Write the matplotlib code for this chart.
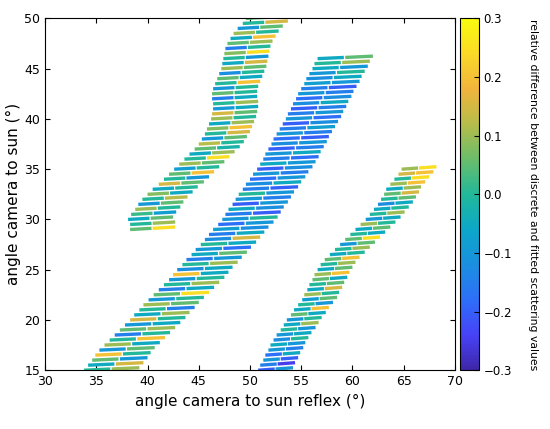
import numpy as np
import matplotlib
matplotlib.use("Agg")
import matplotlib.pyplot as plt
from matplotlib.colors import LinearSegmentedColormap
from matplotlib.collections import LineCollection

# band A (upper left)
a_y = [29 + 0.5 * i for i in range(43)]
a_x = [40.5, 40.5, 40.3, 40.6, 41.0, 41.3, 41.7, 42.2, 42.7, 43.3, 43.8, 44.3, 44.8,
       45.3, 45.8, 46.3, 46.8, 47.2, 47.5, 47.8, 48.0, 48.2, 48.4, 48.5, 48.6, 48.6,
       48.5, 48.5, 48.6, 48.8, 49.0, 49.2, 49.4, 49.5, 49.6, 49.7, 49.8, 50.0, 50.3,
       50.6, 51.0, 51.5, 51.8]
a_v = [(0.05, 0.25), (0.0, 0.1), (-0.05, 0.05), (0.02, -0.08), (0.1, 0.0), (-0.1, 0.05),
       (0.0, 0.12), (0.08, -0.05), (-0.05, 0.0), (0.15, 0.05), (0.0, -0.1), (0.05, 0.2),
       (-0.08, 0.0), (0.1, 0.05), (0.0, 0.25), (-0.05, 0.1), (0.05, -0.02), (0.12, 0.0),
       (-0.1, 0.05), (0.0, 0.15), (0.08, 0.2), (-0.05, 0.1), (0.1, 0.0), (0.15, 0.05),
       (-0.1, -0.05), (0.0, 0.1), (-0.15, -0.05), (0.05, 0.0), (-0.1, 0.0), (0.0, 0.2),
       (0.05, -0.05), (-0.12, 0.0), (0.1, 0.05), (-0.05, 0.15), (0.0, -0.1), (0.08, 0.25),
       (-0.15, 0.0), (0.05, 0.1), (-0.05, 0.2), (0.1, 0.0), (-0.1, 0.05), (0.0, 0.15),
       (0.05, 0.2)]

# band B (middle diagonal)
b_y = [15 + 0.5 * i for i in range(63)]
b_x = [36.5, 36.9, 37.3, 37.6, 38.0, 38.5, 39.0, 39.5, 40.0, 40.5, 41.0, 41.4, 41.9,
       42.3, 42.8, 43.3, 43.8, 44.3, 44.8, 45.2, 45.6, 46.1, 46.5, 47.0, 47.4, 47.9,
       48.3, 48.7, 49.1, 49.6, 50.0, 50.3, 50.6, 51.0, 51.3, 51.6, 52.0, 52.3, 52.7,
       53.0, 53.4, 53.7, 54.0, 54.2, 54.5, 54.8, 55.0, 55.3, 55.6, 55.9, 56.2, 56.4,
       56.7, 56.9, 57.2, 57.4, 57.7, 58.0, 58.2, 58.5, 58.8, 59.0, 59.3]
b_v = [(0.0, 0.1), (-0.05, 0.15), (0.05, -0.1), (0.2, 0.0), (-0.1, 0.05), (0.1, -0.05),
       (0.0, 0.2), (-0.15, 0.0), (0.05, 0.1), (-0.1, -0.05), (0.15, 0.0), (-0.05, 0.1),
       (0.0, -0.15), (0.1, 0.05), (-0.1, 0.0), (0.05, 0.25), (-0.15, -0.05), (0.0, 0.1),
       (-0.1, 0.0), (0.2, -0.05), (-0.12, -0.05), (0.0, 0.1), (-0.15, -0.1), (-0.05, 0.05),
       (-0.1, -0.18), (0.0, -0.05), (-0.12, 0.15), (-0.15, -0.05), (-0.08, -0.12), (-0.18, -0.1),
       (-0.1, 0.0), (-0.15, -0.2), (-0.05, -0.12), (-0.2, -0.1), (-0.1, -0.15), (0.0, -0.1),
       (-0.15, -0.2), (-0.12, -0.05), (-0.18, -0.1), (-0.1, -0.15), (-0.2, -0.12), (-0.05, -0.1),
       (-0.15, -0.18), (-0.1, -0.05), (-0.2, -0.15), (-0.12, -0.1), (-0.18, -0.2), (-0.1, -0.15),
       (-0.15, -0.08), (-0.2, -0.12), (-0.1, -0.18), (-0.15, -0.1), (-0.2, -0.15), (-0.12, -0.05),
       (-0.18, -0.12), (-0.1, -0.15), (-0.15, -0.2), (-0.08, -0.1), (-0.12, -0.05), (-0.1, 0.0),
       (-0.05, -0.1), (0.0, 0.1), (-0.05, 0.05)]

# band C (lower right)
c_y = [15 + 0.5 * i for i in range(41)]
c_x = [52.5, 52.7, 53.0, 53.2, 53.5, 53.7, 54.0, 54.3, 54.7, 55.0, 55.3, 55.7, 56.0,
       56.4, 56.8, 57.0, 57.3, 57.5, 57.8, 58.0, 58.3, 58.6, 59.0, 59.5, 60.0, 60.5,
       61.0, 61.5, 62.0, 62.5, 63.0, 63.4, 63.8, 64.2, 64.5, 64.8, 65.0, 65.4, 65.8,
       66.2, 66.5]
c_v = [(-0.2, -0.1), (-0.15, -0.25), (-0.1, -0.2), (-0.18, -0.05), (-0.1, -0.15), (-0.05, -0.1),
       (-0.12, 0.0), (-0.1, -0.05), (0.0, -0.1), (-0.05, 0.1), (-0.1, 0.0), (0.05, -0.05),
       (-0.05, 0.2), (0.0, -0.1), (-0.08, 0.05), (0.1, 0.0), (-0.05, 0.15), (0.0, 0.05),
       (0.05, -0.05), (0.1, 0.2), (-0.05, 0.05), (0.0, 0.1), (0.05, 0.2), (-0.05, 0.0),
       (0.0, 0.1), (-0.1, 0.05), (0.05, 0.25), (0.0, -0.05), (-0.05, 0.05), (0.1, 0.0),
       (-0.1, -0.05), (0.0, 0.1), (-0.05, 0.0), (-0.12, -0.05), (0.0, 0.05), (0.05, 0.15),
       (-0.05, 0.1), (0.1, 0.2), (0.0, 0.25), (0.15, 0.2), (0.1, 0.25)]

bands = [(a_y, a_x, a_v, 4.4), (b_y, b_x, b_v, 5.4), (c_y, c_x, c_v, 3.4)]

parula = LinearSegmentedColormap.from_list("parula", [
    "#3e26a8", "#4743f8", "#2d6ff9", "#1b8fdf", "#0ca7c9", "#22b89a",
    "#6abd6b", "#b5bd4a", "#f1b43d", "#fbd928", "#f9fb0e"])

fig = plt.figure(figsize=(5.5, 4.29), dpi=100)
ax = fig.add_axes([0.082, 0.137, 0.745, 0.82])

segs, vals = [], []
for ys, xs, vs, w in bands:
    for y, xc, (v1, v2) in zip(ys, xs, vs):
        x0 = xc - w / 2
        h = w / 2
        segs.append([(x0, y), (x0 + h * 0.95, y + 0.12)])
        segs.append([(x0 + h, y + 0.12), (x0 + w, y + 0.25)])
        vals += [v1, v2]

lc = LineCollection(segs, cmap=parula, linewidths=2.4)
lc.set_array(np.array(vals))
lc.set_clim(-0.3, 0.3)
ax.add_collection(lc)

ax.set_xlim(30, 70)
ax.set_ylim(15, 50)
ax.set_xticks(range(30, 71, 5))
ax.set_yticks(range(15, 51, 5))
ax.tick_params(direction="in", labelsize=9, top=True, right=True)
ax.set_xlabel("angle camera to sun reflex (°)", fontsize=11)
ax.set_ylabel("angle camera to sun (°)", fontsize=11, labelpad=2)

cax = fig.add_axes([0.837, 0.137, 0.033, 0.82])
cb = fig.colorbar(lc, cax=cax)
cb.set_ticks([-0.3, -0.2, -0.1, 0, 0.1, 0.2, 0.3])
cb.ax.tick_params(direction="in", labelsize=8.5)
cb.set_label("relative difference between discrete and fitted scattering values",
             rotation=270, fontsize=7.8)
cb.ax.yaxis.set_label_coords(4.3, 0.5)

fig.savefig("out.png")
